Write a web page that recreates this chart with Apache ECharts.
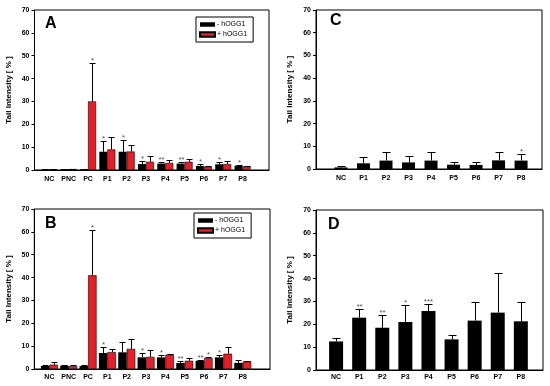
<!DOCTYPE html>
<html>
<head>
<meta charset="utf-8">
<script src="https://cdn.jsdelivr.net/npm/echarts@6.0.0/dist/echarts.min.js"></script>
<style>
html,body{margin:0;padding:0;background:#fff;}
#chart{width:550px;height:386px;}
</style>
</head>
<body>
<div id="chart"></div>
<script>
// ---------- data ----------
const catsAB = ['NC', 'PNC', 'PC', 'P1', 'P2', 'P3', 'P4', 'P5', 'P6', 'P7', 'P8'];
const catsCD = ['NC', 'P1', 'P2', 'P3', 'P4', 'P5', 'P6', 'P7', 'P8'];
const yTicks = [0, 10, 20, 30, 40, 50, 60, 70];

// Panel A (mean and upper end of error bar)
const aMinus    = [0.3, 0.4, 0.3, 8.0, 8.0, 2.6, 2.8, 2.8, 1.8, 2.5, 1.9];
const aMinusErr = [0.4, 0.5, 0.4, 12.5, 13.1, 4.0, 3.4, 3.7, 2.8, 3.7, 2.2];
const aPlus     = [0.3, 0.4, 30.0, 9.0, 8.1, 3.6, 3.1, 3.6, 1.5, 2.6, 1.6];
const aPlusErr  = [0.4, 0.5, 47.0, 14.6, 10.9, 6.1, 4.2, 5.0, 1.9, 4.1, 1.9];
const aMinusSig = ['', '', '', '*', '*', '*', '**', '**', '*', '*', '*'];
const aPlusSig  = ['', '', '*', '', '', '', '', '', '', '', ''];

// Panel B
const bMinus    = [1.3, 1.4, 1.3, 7.0, 7.3, 5.1, 5.1, 2.6, 3.6, 5.1, 2.7];
const bMinusErr = [1.6, 1.7, 1.6, 9.6, 11.6, 7.0, 6.3, 3.4, 3.8, 6.3, 3.9];
const bPlus     = [1.9, 1.3, 41.0, 7.4, 8.8, 5.3, 6.3, 3.6, 4.8, 6.7, 3.3];
const bPlusErr  = [2.9, 1.6, 61.0, 8.9, 13.1, 8.3, 6.6, 4.9, 5.1, 9.6, 3.5];
const bMinusSig = ['', '', '', '*', '', '*', '*', '**', '**', '*', ''];
const bPlusSig  = ['', '', '*', '', '', '', '', '', '*', '', ''];

// Panel C
const cVals = [0.7, 2.5, 3.7, 2.9, 3.7, 1.9, 1.8, 3.8, 3.7];
const cErr  = [1.3, 5.1, 7.3, 5.9, 7.6, 3.2, 3.2, 7.6, 6.8];
const cSig  = ['', '', '', '', '', '', '', '', '*'];

// Panel D
const dVals = [12.5, 22.9, 18.5, 21.0, 25.8, 13.4, 21.6, 25.1, 21.3];
const dErr  = [14.1, 26.8, 24.2, 28.4, 29.0, 15.5, 29.9, 42.6, 29.9];
const dSig  = ['', '**', '**', '*', '***', '', '', '', ''];

const legendNames = ['- hOGG1', '+ hOGG1'];
const panelLetters = ['A', 'B', 'C', 'D'];
const yName = 'Tail Intensity [ % ]';

// ---------- styling ----------
const FONT = 'Liberation Sans, Arial, Helvetica, sans-serif';
const RED = '#ec1c24';

const panels = [
  { cats: catsAB, grid: { left: 34.5, top: 10, width: 234.5, height: 160 }, xmin: -0.77, xmax: 11.37, bw: 8, lm: 6 },
  { cats: catsAB, grid: { left: 34.3, top: 209, width: 235.7, height: 160 }, xmin: -0.78, xmax: 11.41, bw: 8.5, lm: 5 },
  { cats: catsCD, grid: { left: 316, top: 10, width: 226, height: 159 }, xmin: -1.11, xmax: 8.93, bw: 13, lm: 6 },
  { cats: catsCD, grid: { left: 316, top: 210, width: 227, height: 160 }, xmin: -0.87, xmax: 8.96, bw: 14, lm: 4 }
];

function errBars(sig, offset, cap) {
  return function (params, api) {
    const i = api.value(0), v = api.value(1), e = api.value(2);
    const p0 = api.coord([i, v]);
    const p1 = api.coord([i, e]);
    const x = Math.round(p0[0] + offset) + 0.5;
    const yt = Math.round(p1[1]) + 0.5;
    const children = [
      { type: 'line', shape: { x1: x, y1: p0[1], x2: x, y2: yt }, style: { stroke: '#000', lineWidth: 1 } },
      { type: 'line', shape: { x1: x - cap / 2, y1: yt, x2: x + cap / 2, y2: yt }, style: { stroke: '#000', lineWidth: 1 } }
    ];
    const s = sig[params.dataIndex];
    if (s) {
      children.push({
        type: 'text', x: x, y: yt + 1,
        style: { text: s, fill: '#555', fontSize: 8, fontFamily: FONT, align: 'center', verticalAlign: 'bottom' }
      });
    }
    return { type: 'group', children: children };
  };
}

const grids = [], xAxes = [], yAxes = [], series = [], titles = [];
panels.forEach(function (p, g) {
  grids.push(Object.assign({ show: true, borderColor: '#000', borderWidth: 1, backgroundColor: 'transparent' }, p.grid));
  xAxes.push({
    gridIndex: g, type: 'value', min: p.xmin, max: p.xmax,
    axisLine: { show: true, onZero: false, lineStyle: { color: '#000', width: 1 } },
    axisTick: { show: false }, splitLine: { show: false },
    axisLabel: {
      customValues: p.cats.map(function (c, i) { return i; }),
      formatter: function (v) { return p.cats[Math.round(v)]; },
      fontSize: 7, fontWeight: 'bold', color: '#000', fontFamily: FONT, margin: p.lm
    }
  });
  yAxes.push({
    gridIndex: g, type: 'value', min: 0, max: 70, interval: 10,
    name: yName, nameLocation: 'middle', nameGap: 22,
    nameTextStyle: { fontSize: 8, fontWeight: 'bold', color: '#000', fontFamily: FONT },
    axisLine: { show: true, onZero: false, lineStyle: { color: '#000', width: 1 } },
    axisTick: { show: true, inside: false, length: 3, lineStyle: { color: '#000' } },
    splitLine: { show: false },
    axisLabel: {
      customValues: yTicks,
      fontSize: 7, fontWeight: 'bold', color: '#000', fontFamily: FONT, margin: 5
    }
  });
});

function pairs(vals, errs) { return vals.map(function (v, i) { return [i, v, errs[i]]; }); }

function addPaired(g, minus, minusErr, plus, plusErr, minusSig, plusSig) {
  const bw = panels[g].bw;
  series.push({
    name: legendNames[0], type: 'bar', xAxisIndex: g, yAxisIndex: g,
    data: minus.map(function (v, i) { return [i, v]; }),
    barWidth: bw, barGap: '0%', itemStyle: { color: '#000' }, silent: true, z: 2
  });
  series.push({
    name: legendNames[1], type: 'bar', xAxisIndex: g, yAxisIndex: g,
    data: plus.map(function (v, i) { return [i, v]; }),
    barWidth: bw, barGap: '0%', itemStyle: { color: RED, borderColor: '#000', borderWidth: 0.6 }, silent: true, z: 2
  });
  series.push({
    type: 'custom', xAxisIndex: g, yAxisIndex: g, encode: { x: 0, y: [1, 2] },
    data: pairs(minus, minusErr), renderItem: errBars(minusSig, -bw / 2, 6), silent: true, z: 3
  });
  series.push({
    type: 'custom', xAxisIndex: g, yAxisIndex: g, encode: { x: 0, y: [1, 2] },
    data: pairs(plus, plusErr), renderItem: errBars(plusSig, bw / 2, 6), silent: true, z: 3
  });
}

function addSingle(g, vals, errs, sig) {
  const bw = panels[g].bw;
  series.push({
    name: 'Tail intensity ' + panelLetters[g], type: 'bar', xAxisIndex: g, yAxisIndex: g,
    data: vals.map(function (v, i) { return [i, v]; }),
    barWidth: bw, itemStyle: { color: '#000' }, silent: true, z: 2
  });
  series.push({
    type: 'custom', xAxisIndex: g, yAxisIndex: g, encode: { x: 0, y: [1, 2] },
    data: pairs(vals, errs), renderItem: errBars(sig, 0, 8), silent: true, z: 3
  });
}

addPaired(0, aMinus, aMinusErr, aPlus, aPlusErr, aMinusSig, aPlusSig);
addPaired(1, bMinus, bMinusErr, bPlus, bPlusErr, bMinusSig, bPlusSig);
addSingle(2, cVals, cErr, cSig);
addSingle(3, dVals, dErr, dSig);

const titlePos = [[45, 16], [45, 216], [330, 13], [328, 217]];
panelLetters.forEach(function (t, i) {
  titles.push({
    text: t, left: titlePos[i][0], top: titlePos[i][1], padding: 0,
    textStyle: { fontSize: 16, fontWeight: 'bold', color: '#000', fontFamily: FONT }
  });
});

const legendBase = {
  orient: 'vertical', data: legendNames, icon: 'rect', itemWidth: 15, itemHeight: 4.5, itemGap: 3,
  borderColor: '#000', borderWidth: 1, padding: [4, 6, 4, 3], backgroundColor: '#fff',
  textStyle: { fontSize: 7, color: '#000', fontFamily: FONT, padding: [0, 0, 0, -3] },
  selectedMode: false
};

const option = {
  animation: false,
  backgroundColor: '#fff',
  title: titles,
  legend: [
    Object.assign({ left: 196, top: 17 }, legendBase),
    Object.assign({ left: 194, top: 213 }, legendBase)
  ],
  grid: grids,
  xAxis: xAxes,
  yAxis: yAxes,
  series: series
};

const chart = echarts.init(document.getElementById('chart'), null, { renderer: 'canvas' });
chart.setOption(option);
</script>
</body>
</html>
